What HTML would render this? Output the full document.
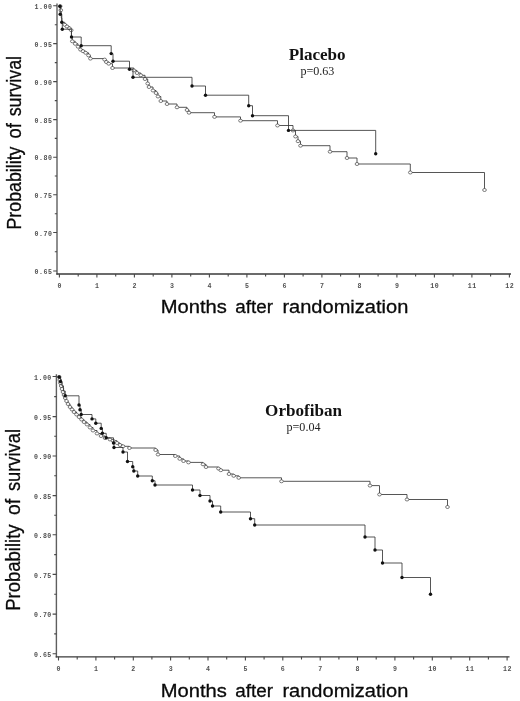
<!DOCTYPE html>
<html><head><meta charset="utf-8"><title>Survival</title>
<style>
html,body{margin:0;padding:0;background:#fff;}
svg{display:block;}
.tk{font-family:"Liberation Mono","DejaVu Sans Mono",monospace;font-size:6.6px;fill:#505050;font-weight:bold;letter-spacing:0.5px;}
.ax{font-family:"Liberation Sans",Arial,sans-serif;font-size:18.9px;fill:#0a0a0a;stroke:#0a0a0a;stroke-width:0.3px;}
.ay{font-family:"Liberation Sans",Arial,sans-serif;font-size:21px;fill:#0a0a0a;stroke:#0a0a0a;stroke-width:0.3px;}
.ttl{font-family:"Liberation Serif","Times New Roman",serif;font-weight:bold;font-size:17.1px;fill:#111;}
.pv{font-family:"Liberation Serif","Times New Roman",serif;font-size:12.1px;fill:#222;}
</style></head><body>
<svg width="520" height="701" viewBox="0 0 520 701">
<rect width="520" height="701" fill="#fff"/>
<path d="M57.0 3.6 V274.6" fill="none" stroke="#5e5e5e" stroke-width="1.4"/><path d="M56.3 274.0 H511.0" fill="none" stroke="#3a3a3a" stroke-width="1.3"/><text x="52.4" y="9.0" class="tk" text-anchor="end">1.00</text><text x="52.4" y="46.8" class="tk" text-anchor="end">0.95</text><text x="52.4" y="84.8" class="tk" text-anchor="end">0.90</text><text x="52.4" y="122.8" class="tk" text-anchor="end">0.85</text><text x="52.4" y="160.4" class="tk" text-anchor="end">0.80</text><text x="52.4" y="198.0" class="tk" text-anchor="end">0.75</text><text x="52.4" y="235.7" class="tk" text-anchor="end">0.70</text><text x="52.4" y="274.2" class="tk" text-anchor="end">0.65</text><text x="59.7" y="287.9" class="tk" text-anchor="middle">0</text><text x="97.2" y="287.9" class="tk" text-anchor="middle">1</text><text x="134.7" y="287.9" class="tk" text-anchor="middle">2</text><text x="172.2" y="287.9" class="tk" text-anchor="middle">3</text><text x="209.7" y="287.9" class="tk" text-anchor="middle">4</text><text x="247.2" y="287.9" class="tk" text-anchor="middle">5</text><text x="284.7" y="287.9" class="tk" text-anchor="middle">6</text><text x="322.2" y="287.9" class="tk" text-anchor="middle">7</text><text x="359.7" y="287.9" class="tk" text-anchor="middle">8</text><text x="397.2" y="287.9" class="tk" text-anchor="middle">9</text><text x="434.7" y="287.9" class="tk" text-anchor="middle">10</text><text x="472.2" y="287.9" class="tk" text-anchor="middle">11</text><text x="509.7" y="287.9" class="tk" text-anchor="middle">12</text><path d="M53.2 5.8 H57.0 M54.8 24.7 H57.0 M53.2 43.6 H57.0 M54.8 62.6 H57.0 M53.2 81.6 H57.0 M54.8 100.6 H57.0 M53.2 119.6 H57.0 M54.8 138.4 H57.0 M53.2 157.2 H57.0 M54.8 176.0 H57.0 M53.2 194.8 H57.0 M54.8 213.7 H57.0 M53.2 232.5 H57.0 M54.8 251.8 H57.0 M53.2 271.0 H57.0 M59.4 274.0 V277.6 M78.2 274.0 V276.6 M96.9 274.0 V277.6 M115.7 274.0 V276.6 M134.4 274.0 V277.6 M153.2 274.0 V276.6 M171.9 274.0 V277.6 M190.7 274.0 V276.6 M209.4 274.0 V277.6 M228.2 274.0 V276.6 M246.9 274.0 V277.6 M265.6 274.0 V276.6 M284.4 274.0 V277.6 M303.1 274.0 V276.6 M321.9 274.0 V277.6 M340.6 274.0 V276.6 M359.4 274.0 V277.6 M378.1 274.0 V276.6 M396.9 274.0 V277.6 M415.6 274.0 V276.6 M434.4 274.0 V277.6 M453.1 274.0 V276.6 M471.9 274.0 V277.6 M490.6 274.0 V276.6 M509.4 274.0 V277.6" fill="none" stroke="#484848" stroke-width="1.1"/>
<path d="M56.4 374.3 V657.4" fill="none" stroke="#5e5e5e" stroke-width="1.4"/><path d="M55.7 656.8 H509.5" fill="none" stroke="#3a3a3a" stroke-width="1.3"/><text x="51.8" y="379.7" class="tk" text-anchor="end">1.00</text><text x="51.8" y="419.8" class="tk" text-anchor="end">0.95</text><text x="51.8" y="459.2" class="tk" text-anchor="end">0.90</text><text x="51.8" y="498.8" class="tk" text-anchor="end">0.85</text><text x="51.8" y="538.0" class="tk" text-anchor="end">0.80</text><text x="51.8" y="577.6" class="tk" text-anchor="end">0.75</text><text x="51.8" y="617.3" class="tk" text-anchor="end">0.70</text><text x="51.8" y="656.9" class="tk" text-anchor="end">0.65</text><text x="58.8" y="670.9" class="tk" text-anchor="middle">0</text><text x="96.2" y="670.9" class="tk" text-anchor="middle">1</text><text x="133.6" y="670.9" class="tk" text-anchor="middle">2</text><text x="170.9" y="670.9" class="tk" text-anchor="middle">3</text><text x="208.3" y="670.9" class="tk" text-anchor="middle">4</text><text x="245.7" y="670.9" class="tk" text-anchor="middle">5</text><text x="283.1" y="670.9" class="tk" text-anchor="middle">6</text><text x="320.5" y="670.9" class="tk" text-anchor="middle">7</text><text x="357.8" y="670.9" class="tk" text-anchor="middle">8</text><text x="395.2" y="670.9" class="tk" text-anchor="middle">9</text><text x="432.6" y="670.9" class="tk" text-anchor="middle">10</text><text x="470.0" y="670.9" class="tk" text-anchor="middle">11</text><text x="507.4" y="670.9" class="tk" text-anchor="middle">12</text><path d="M52.6 376.5 H56.4 M54.2 396.6 H56.4 M52.6 416.6 H56.4 M54.2 436.3 H56.4 M52.6 456.0 H56.4 M54.2 475.8 H56.4 M52.6 495.6 H56.4 M54.2 515.2 H56.4 M52.6 534.8 H56.4 M54.2 554.6 H56.4 M52.6 574.4 H56.4 M54.2 594.2 H56.4 M52.6 614.1 H56.4 M54.2 633.9 H56.4 M52.6 653.7 H56.4 M58.5 656.8 V660.4 M77.2 656.8 V659.4 M95.9 656.8 V660.4 M114.6 656.8 V659.4 M133.3 656.8 V660.4 M151.9 656.8 V659.4 M170.6 656.8 V660.4 M189.3 656.8 V659.4 M208.0 656.8 V660.4 M226.7 656.8 V659.4 M245.4 656.8 V660.4 M264.1 656.8 V659.4 M282.8 656.8 V660.4 M301.5 656.8 V659.4 M320.2 656.8 V660.4 M338.9 656.8 V659.4 M357.5 656.8 V660.4 M376.2 656.8 V659.4 M394.9 656.8 V660.4 M413.6 656.8 V659.4 M432.3 656.8 V660.4 M451.0 656.8 V659.4 M469.7 656.8 V660.4 M488.4 656.8 V659.4 M507.1 656.8 V660.4" fill="none" stroke="#484848" stroke-width="1.1"/>
<path d="M60.2 6.2 H60.8 V10.2 H61.3 V18.0 H61.8 V22.3 H64.8 V24.8 H67.0 V26.5 H69.4 V28.3 H71.2 V30.2 H71.4 V37.2 H72.3 V41.3 H75.2 V43.8 H78.0 V46.7 H80.4 V49.6 H83.0 V51.2 H85.6 V52.8 H88.5 V55.4 H90.4 V58.6 H104.6 V59.6 H106.3 V62.0 H108.7 V63.7 H112.5 V68.0 H133.8 V70.4 H137.0 V73.0 H140.8 V75.3 H145.0 V79.0 H147.7 V83.5 H149.0 V87.0 H153.0 V90.5 H156.0 V93.0 H158.0 V96.5 H160.8 V101.0 H167.0 V104.0 H177.0 V107.3 H187.0 V110.0 H189.0 V112.7 H214.5 V116.9 H240.5 V120.7 H277.5 V125.5 H293.0 V130.5 H295.5 V136.5 H298.0 V141.2 H300.5 V145.7 H330.0 V151.7 H347.0 V158.0 H357.0 V164.0 H410.3 V172.5 H484.5 V190.0" fill="none" stroke="#383838" stroke-width="0.85"/>
<g fill="#fff" stroke="#383838" stroke-width="0.65"><ellipse cx="60.2" cy="6.2" rx="1.85" ry="1.5"/><ellipse cx="60.8" cy="10.2" rx="1.85" ry="1.5"/><ellipse cx="64.8" cy="24.8" rx="1.85" ry="1.5"/><ellipse cx="67.0" cy="26.5" rx="1.85" ry="1.5"/><ellipse cx="69.4" cy="28.3" rx="1.85" ry="1.5"/><ellipse cx="71.2" cy="30.2" rx="1.85" ry="1.5"/><ellipse cx="72.3" cy="41.3" rx="1.85" ry="1.5"/><ellipse cx="75.2" cy="43.8" rx="1.85" ry="1.5"/><ellipse cx="78.0" cy="46.7" rx="1.85" ry="1.5"/><ellipse cx="80.4" cy="49.6" rx="1.85" ry="1.5"/><ellipse cx="83.0" cy="51.2" rx="1.85" ry="1.5"/><ellipse cx="85.6" cy="52.8" rx="1.85" ry="1.5"/><ellipse cx="88.5" cy="55.4" rx="1.85" ry="1.5"/><ellipse cx="90.4" cy="58.6" rx="1.85" ry="1.5"/><ellipse cx="104.6" cy="59.6" rx="1.85" ry="1.5"/><ellipse cx="106.3" cy="62.0" rx="1.85" ry="1.5"/><ellipse cx="108.7" cy="63.7" rx="1.85" ry="1.5"/><ellipse cx="112.5" cy="68.0" rx="1.85" ry="1.5"/><ellipse cx="133.8" cy="70.4" rx="1.85" ry="1.5"/><ellipse cx="137.0" cy="73.0" rx="1.85" ry="1.5"/><ellipse cx="140.8" cy="75.3" rx="1.85" ry="1.5"/><ellipse cx="145.0" cy="79.0" rx="1.85" ry="1.5"/><ellipse cx="147.7" cy="83.5" rx="1.85" ry="1.5"/><ellipse cx="149.0" cy="87.0" rx="1.85" ry="1.5"/><ellipse cx="153.0" cy="90.5" rx="1.85" ry="1.5"/><ellipse cx="156.0" cy="93.0" rx="1.85" ry="1.5"/><ellipse cx="158.0" cy="96.5" rx="1.85" ry="1.5"/><ellipse cx="160.8" cy="101.0" rx="1.85" ry="1.5"/><ellipse cx="167.0" cy="104.0" rx="1.85" ry="1.5"/><ellipse cx="177.0" cy="107.3" rx="1.85" ry="1.5"/><ellipse cx="187.0" cy="110.0" rx="1.85" ry="1.5"/><ellipse cx="189.0" cy="112.7" rx="1.85" ry="1.5"/><ellipse cx="214.5" cy="116.9" rx="1.85" ry="1.5"/><ellipse cx="240.5" cy="120.7" rx="1.85" ry="1.5"/><ellipse cx="277.5" cy="125.5" rx="1.85" ry="1.5"/><ellipse cx="293.0" cy="130.5" rx="1.85" ry="1.5"/><ellipse cx="295.5" cy="136.5" rx="1.85" ry="1.5"/><ellipse cx="298.0" cy="141.2" rx="1.85" ry="1.5"/><ellipse cx="300.5" cy="145.7" rx="1.85" ry="1.5"/><ellipse cx="330.0" cy="151.7" rx="1.85" ry="1.5"/><ellipse cx="347.0" cy="158.0" rx="1.85" ry="1.5"/><ellipse cx="357.0" cy="164.0" rx="1.85" ry="1.5"/><ellipse cx="410.3" cy="172.5" rx="1.85" ry="1.5"/><ellipse cx="484.5" cy="190.0" rx="1.85" ry="1.5"/></g>
<path d="M60.0 6.2 H60.2 V14.2 H61.8 V22.3 H62.3 V29.2 H71.5 V37.0 H81.2 V45.7 H111.2 V53.6 H113.0 V61.2 H129.5 V69.2 H133.0 V77.3 H192.0 V86.0 H205.5 V95.2 H248.7 V105.7 H252.5 V115.7 H288.5 V130.4 H375.7 V153.7" fill="none" stroke="#383838" stroke-width="0.85"/>
<g fill="#111"><circle cx="60.0" cy="6.2" r="1.7"/><circle cx="60.2" cy="14.2" r="1.7"/><circle cx="61.8" cy="22.3" r="1.7"/><circle cx="62.3" cy="29.2" r="1.7"/><circle cx="71.5" cy="37.0" r="1.7"/><circle cx="81.2" cy="45.7" r="1.7"/><circle cx="111.2" cy="53.6" r="1.7"/><circle cx="113.0" cy="61.2" r="1.7"/><circle cx="129.5" cy="69.2" r="1.7"/><circle cx="133.0" cy="77.3" r="1.7"/><circle cx="192.0" cy="86.0" r="1.7"/><circle cx="205.5" cy="95.2" r="1.7"/><circle cx="248.7" cy="105.7" r="1.7"/><circle cx="252.5" cy="115.7" r="1.7"/><circle cx="288.5" cy="130.4" r="1.7"/><circle cx="375.7" cy="153.7" r="1.7"/></g>
<path d="M59.2 377.0 H59.8 V380.0 H60.4 V383.0 H61.2 V386.0 H62.0 V389.0 H63.0 V392.0 H64.0 V395.0 H65.2 V398.0 H66.5 V401.0 H68.0 V404.0 H70.0 V407.0 H72.0 V409.5 H74.0 V412.0 H76.5 V414.5 H79.0 V417.0 H81.5 V419.5 H84.0 V422.0 H87.0 V424.5 H90.0 V427.5 H93.0 V430.5 H97.0 V433.5 H101.0 V436.0 H105.0 V438.0 H110.0 V439.5 H113.0 V440.7 H117.0 V443.0 H120.0 V445.0 H123.0 V446.3 H129.4 V448.0 H155.6 V450.0 H158.0 V454.5 H175.3 V456.0 H179.7 V458.8 H183.5 V461.0 H188.5 V462.4 H203.0 V464.3 H206.0 V467.0 H218.5 V468.6 H220.8 V470.2 H229.0 V474.0 H233.7 V475.8 H238.7 V477.8 H281.5 V481.3 H370.0 V485.6 H379.5 V494.5 H407.0 V499.5 H447.5 V507.0" fill="none" stroke="#383838" stroke-width="0.85"/>
<g fill="#fff" stroke="#383838" stroke-width="0.65"><ellipse cx="59.2" cy="377.0" rx="1.85" ry="1.5"/><ellipse cx="59.8" cy="380.0" rx="1.85" ry="1.5"/><ellipse cx="60.4" cy="383.0" rx="1.85" ry="1.5"/><ellipse cx="61.2" cy="386.0" rx="1.85" ry="1.5"/><ellipse cx="62.0" cy="389.0" rx="1.85" ry="1.5"/><ellipse cx="63.0" cy="392.0" rx="1.85" ry="1.5"/><ellipse cx="64.0" cy="395.0" rx="1.85" ry="1.5"/><ellipse cx="65.2" cy="398.0" rx="1.85" ry="1.5"/><ellipse cx="66.5" cy="401.0" rx="1.85" ry="1.5"/><ellipse cx="68.0" cy="404.0" rx="1.85" ry="1.5"/><ellipse cx="70.0" cy="407.0" rx="1.85" ry="1.5"/><ellipse cx="72.0" cy="409.5" rx="1.85" ry="1.5"/><ellipse cx="74.0" cy="412.0" rx="1.85" ry="1.5"/><ellipse cx="76.5" cy="414.5" rx="1.85" ry="1.5"/><ellipse cx="79.0" cy="417.0" rx="1.85" ry="1.5"/><ellipse cx="81.5" cy="419.5" rx="1.85" ry="1.5"/><ellipse cx="84.0" cy="422.0" rx="1.85" ry="1.5"/><ellipse cx="87.0" cy="424.5" rx="1.85" ry="1.5"/><ellipse cx="90.0" cy="427.5" rx="1.85" ry="1.5"/><ellipse cx="93.0" cy="430.5" rx="1.85" ry="1.5"/><ellipse cx="97.0" cy="433.5" rx="1.85" ry="1.5"/><ellipse cx="101.0" cy="436.0" rx="1.85" ry="1.5"/><ellipse cx="105.0" cy="438.0" rx="1.85" ry="1.5"/><ellipse cx="110.0" cy="439.5" rx="1.85" ry="1.5"/><ellipse cx="113.0" cy="440.7" rx="1.85" ry="1.5"/><ellipse cx="117.0" cy="443.0" rx="1.85" ry="1.5"/><ellipse cx="120.0" cy="445.0" rx="1.85" ry="1.5"/><ellipse cx="123.0" cy="446.3" rx="1.85" ry="1.5"/><ellipse cx="129.4" cy="448.0" rx="1.85" ry="1.5"/><ellipse cx="155.6" cy="450.0" rx="1.85" ry="1.5"/><ellipse cx="158.0" cy="454.5" rx="1.85" ry="1.5"/><ellipse cx="175.3" cy="456.0" rx="1.85" ry="1.5"/><ellipse cx="179.7" cy="458.8" rx="1.85" ry="1.5"/><ellipse cx="183.5" cy="461.0" rx="1.85" ry="1.5"/><ellipse cx="188.5" cy="462.4" rx="1.85" ry="1.5"/><ellipse cx="203.0" cy="464.3" rx="1.85" ry="1.5"/><ellipse cx="206.0" cy="467.0" rx="1.85" ry="1.5"/><ellipse cx="218.5" cy="468.6" rx="1.85" ry="1.5"/><ellipse cx="220.8" cy="470.2" rx="1.85" ry="1.5"/><ellipse cx="229.0" cy="474.0" rx="1.85" ry="1.5"/><ellipse cx="233.7" cy="475.8" rx="1.85" ry="1.5"/><ellipse cx="238.7" cy="477.8" rx="1.85" ry="1.5"/><ellipse cx="281.5" cy="481.3" rx="1.85" ry="1.5"/><ellipse cx="370.0" cy="485.6" rx="1.85" ry="1.5"/><ellipse cx="379.5" cy="494.5" rx="1.85" ry="1.5"/><ellipse cx="407.0" cy="499.5" rx="1.85" ry="1.5"/><ellipse cx="447.5" cy="507.0" rx="1.85" ry="1.5"/></g>
<path d="M59.2 377.0 H60.5 V381.5 H62.0 V386.0 H63.5 V391.0 H65.2 V395.8 H79.0 V405.0 H80.0 V409.7 H81.2 V414.5 H92.0 V418.9 H95.8 V423.2 H101.2 V428.4 H102.4 V433.3 H106.2 V437.8 H113.5 V443.0 H114.0 V447.5 H123.0 V452.0 H127.5 V461.5 H132.7 V466.7 H133.8 V471.0 H137.7 V476.0 H152.3 V480.7 H155.0 V485.0 H192.5 V490.0 H200.0 V495.5 H210.0 V501.0 H212.5 V506.0 H220.7 V512.0 H250.5 V518.7 H254.7 V525.0 H365.0 V537.0 H375.0 V550.0 H382.5 V563.0 H402.0 V577.5 H430.5 V594.2" fill="none" stroke="#383838" stroke-width="0.85"/>
<g fill="#111"><circle cx="59.2" cy="377.0" r="1.7"/><circle cx="60.5" cy="381.5" r="1.7"/><circle cx="65.2" cy="395.8" r="1.7"/><circle cx="79.0" cy="405.0" r="1.7"/><circle cx="80.0" cy="409.7" r="1.7"/><circle cx="81.2" cy="414.5" r="1.7"/><circle cx="92.0" cy="418.9" r="1.7"/><circle cx="95.8" cy="423.2" r="1.7"/><circle cx="101.2" cy="428.4" r="1.7"/><circle cx="102.4" cy="433.3" r="1.7"/><circle cx="106.2" cy="437.8" r="1.7"/><circle cx="113.5" cy="443.0" r="1.7"/><circle cx="114.0" cy="447.5" r="1.7"/><circle cx="123.0" cy="452.0" r="1.7"/><circle cx="127.5" cy="461.5" r="1.7"/><circle cx="132.7" cy="466.7" r="1.7"/><circle cx="133.8" cy="471.0" r="1.7"/><circle cx="137.7" cy="476.0" r="1.7"/><circle cx="152.3" cy="480.7" r="1.7"/><circle cx="155.0" cy="485.0" r="1.7"/><circle cx="192.5" cy="490.0" r="1.7"/><circle cx="200.0" cy="495.5" r="1.7"/><circle cx="210.0" cy="501.0" r="1.7"/><circle cx="212.5" cy="506.0" r="1.7"/><circle cx="220.7" cy="512.0" r="1.7"/><circle cx="250.5" cy="518.7" r="1.7"/><circle cx="254.7" cy="525.0" r="1.7"/><circle cx="365.0" cy="537.0" r="1.7"/><circle cx="375.0" cy="550.0" r="1.7"/><circle cx="382.5" cy="563.0" r="1.7"/><circle cx="402.0" cy="577.5" r="1.7"/><circle cx="430.5" cy="594.2" r="1.7"/></g>
<text class="ax" style="font-size:18.90px" x="160.79" y="312.80" textLength="66.12" lengthAdjust="spacingAndGlyphs">Months</text>
<text class="ax" style="font-size:18.90px" x="235.25" y="312.80" textLength="37.66" lengthAdjust="spacingAndGlyphs">after</text>
<text class="ax" style="font-size:18.90px" x="282.40" y="312.80" textLength="125.91" lengthAdjust="spacingAndGlyphs">randomization</text>
<text class="ax" style="font-size:18.90px" x="160.79" y="697.40" textLength="66.12" lengthAdjust="spacingAndGlyphs">Months</text>
<text class="ax" style="font-size:18.90px" x="235.25" y="697.40" textLength="37.66" lengthAdjust="spacingAndGlyphs">after</text>
<text class="ax" style="font-size:18.90px" x="282.40" y="697.40" textLength="125.91" lengthAdjust="spacingAndGlyphs">randomization</text>
<text class="ay" style="font-size:21.00px" transform="translate(21.30 229.55) rotate(-90)" textLength="83.07" lengthAdjust="spacingAndGlyphs">Probability</text>
<text class="ay" style="font-size:21.00px" transform="translate(21.30 138.54) rotate(-90)" textLength="15.36" lengthAdjust="spacingAndGlyphs">of</text>
<text class="ay" style="font-size:21.00px" transform="translate(21.30 116.33) rotate(-90)" textLength="60.39" lengthAdjust="spacingAndGlyphs">survival</text>
<text class="ay" style="font-size:21.00px" transform="translate(20.40 610.81) rotate(-90)" textLength="86.42" lengthAdjust="spacingAndGlyphs">Probability</text>
<text class="ay" style="font-size:21.00px" transform="translate(20.40 515.07) rotate(-90)" textLength="16.08" lengthAdjust="spacingAndGlyphs">of</text>
<text class="ay" style="font-size:21.00px" transform="translate(20.40 491.05) rotate(-90)" textLength="62.04" lengthAdjust="spacingAndGlyphs">survival</text>
<text class="ttl" x="317.2" y="59.8" text-anchor="middle">Placebo</text>
<text class="pv" x="317.4" y="74.6" text-anchor="middle">p=0.63</text>
<text class="ttl" x="303.6" y="416.3" text-anchor="middle">Orbofiban</text>
<text class="pv" x="303.5" y="431" text-anchor="middle">p=0.04</text>
</svg>
</body></html>
